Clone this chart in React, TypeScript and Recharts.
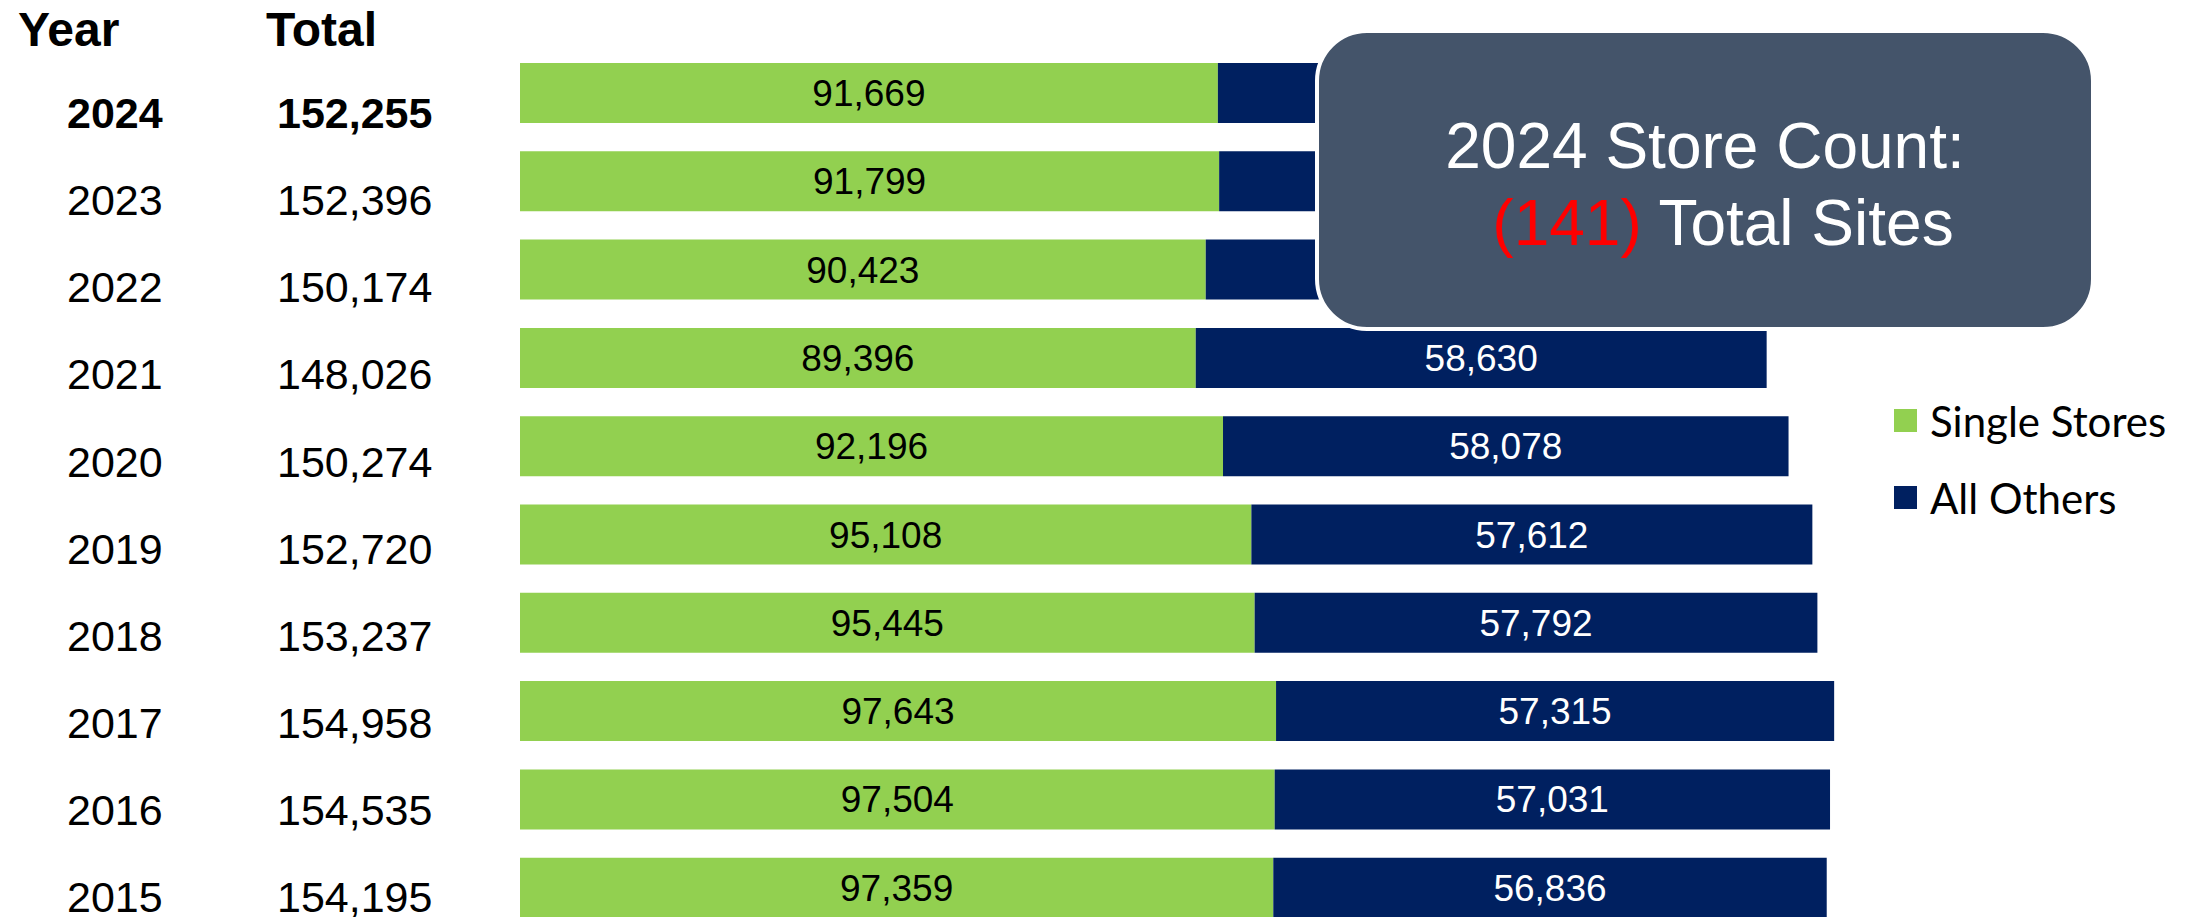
import React from 'react';
import { BarChart, Bar, XAxis, YAxis, LabelList } from 'recharts';

const years = ['2024', '2023', '2022', '2021', '2020', '2019', '2018', '2017', '2016', '2015'];
const singleStores = [91669, 91799, 90423, 89396, 92196, 95108, 95445, 97643, 97504, 97359];
const allOthers = [60586, 60597, 59751, 58630, 58078, 57612, 57792, 57315, 57031, 56836];
const totals = [152255, 152396, 150174, 148026, 150274, 152720, 153237, 154958, 154535, 154195];
const seriesNames = ['Single Stores', 'All Others'];

const GREEN = '#92D050';
const NAVY = '#002060';
const SLATE = '#44546A';
const FONT = '"Liberation Sans", Arial, sans-serif';

const W = 2192;
const H = 917;
const PLOT_LEFT = 520;

const data = years.map((year, i) => ({
  year,
  single: singleStores[i],
  others: allOthers[i],
}));

const legendItems = [
  { name: seriesNames[0], color: GREEN },
  { name: seriesNames[1], color: NAVY },
];

const fmt = (v: number) => v.toLocaleString('en-US');

// y-axis tick draws both the year and the total column
function RowTick(props: any) {
  const { y, payload } = props;
  const i = years.indexOf(payload.value);
  const bold = i === 0 ? 700 : 400;
  const base = y + 35 - i * 1.2;
  return (
    <g>
      <text x={67} y={base} fontSize={43} fontWeight={bold} fill="#000" fontFamily={FONT}>
        {payload.value}
      </text>
      <text x={277} y={base} fontSize={43} fontWeight={bold} fill="#000" fontFamily={FONT}>
        {fmt(totals[i])}
      </text>
    </g>
  );
}

// center the label on the visible part of the bar (axis starts above zero)
const segmentLabel = (fill: string) => (props: any) => {
  const x = Number(props.x);
  const w = Number(props.width);
  const y = Number(props.y);
  const h = Number(props.height);
  const left = Math.max(x, PLOT_LEFT);
  const cx = (left + x + w) / 2;
  return (
    <text x={cx} y={y + h / 2 + 13} textAnchor="middle" fontSize={37} fill={fill} fontFamily={FONT}>
      {fmt(Number(props.value))}
    </text>
  );
};

function LegendBox() {
  return (
    <div
      style={{
        position: 'absolute',
        left: 1894,
        top: 382,
        fontFamily: 'Lato, "Open Sans", sans-serif',
        fontSize: 42,
        color: '#000',
        whiteSpace: 'nowrap',
      }}
    >
      {legendItems.map((it) => (
        <div key={it.name} style={{ display: 'flex', alignItems: 'center', height: 77 }}>
          <span style={{ width: 23, height: 23, background: it.color, marginRight: 13, display: 'inline-block' }} />
          <span>{it.name}</span>
        </div>
      ))}
    </div>
  );
}

export default function App() {
  return (
    <div style={{ position: 'absolute', left: 0, top: 0, width: W, height: H, overflow: 'hidden', background: '#fff', fontFamily: FONT }}>
      <BarChart
        width={W}
        height={932}
        data={data}
        layout="vertical"
        margin={{ top: 49, right: 114, bottom: 0, left: 0 }}
      >
        <XAxis
          type="number"
          domain={[20000, 180000]}
          ticks={[20000, 60000, 100000, 140000, 180000]}
          allowDataOverflow
          hide
        />
        <YAxis
          type="category"
          dataKey="year"
          width={PLOT_LEFT}
          axisLine={false}
          tickLine={false}
          tick={<RowTick />}
          interval={0}
        />
        <Bar dataKey="single" name={seriesNames[0]} stackId="a" fill={GREEN} barSize={60} isAnimationActive={false}>
          <LabelList dataKey="single" content={segmentLabel('#000')} />
        </Bar>
        <Bar dataKey="others" name={seriesNames[1]} stackId="a" fill={NAVY} barSize={60} isAnimationActive={false}>
          <LabelList dataKey="others" content={segmentLabel('#fff')} />
        </Bar>
      </BarChart>

      <LegendBox />

      <svg width={W} height={H} style={{ position: 'absolute', left: 0, top: 0, pointerEvents: 'none' }}>
        <text x={18} y={46} fontSize={48} fontWeight={700} fontFamily={FONT}>Year</text>
        <text x={266} y={46} fontSize={48} fontWeight={700} fontFamily={FONT}>Total</text>
        <rect x={1317} y={31} width={776} height={298} rx={50} ry={50} fill={SLATE} stroke="#fff" strokeWidth={4} />
        <text x={1705} y={168} textAnchor="middle" fontSize={64} fill="#fff" fontFamily={FONT}>
          2024 Store Count:
        </text>
        <text x={1723} y={245} textAnchor="middle" fontSize={64} fill="#fff" fontFamily={FONT}>
          <tspan fill="#FF0000">(141)</tspan> Total Sites
        </text>
      </svg>
    </div>
  );
}
